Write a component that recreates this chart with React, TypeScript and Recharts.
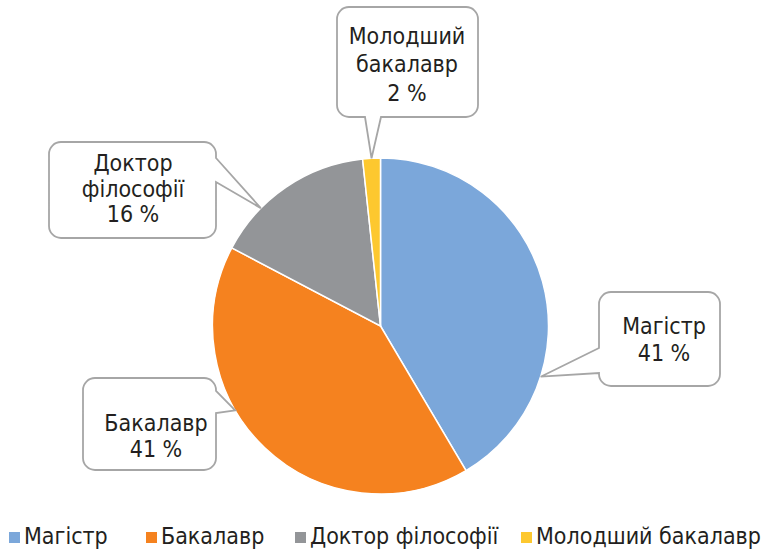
import { PieChart, Pie, Cell, Legend } from 'recharts'

const categories = ['Магістр', 'Бакалавр', 'Доктор філософії', 'Молодший бакалавр']
const shares = [41.5, 41.2, 15.6, 1.7]
const shareLabels = ['41 %', '41 %', '16 %', '2 %']
const calloutLines = [['Магістр'], ['Бакалавр'], ['Доктор', 'філософії'], ['Молодший', 'бакалавр']]

const COLOURS = ['#7ba7da', '#f5821f', '#939598', '#fdc82f']
const FONT = "'DejaVu Sans Condensed', 'DejaVu Sans', sans-serif"
const TEXT = '#231f20'
const FONT_SIZE = 23

const data = categories.map((name, i) => ({ name, value: shares[i] }))

// where each legend entry starts (its square), as in the original
const legendLeft = [9, 146, 295, 521]

interface Callout {
  x: number; y: number; w: number; h: number
  side: 'left' | 'right' | 'bottom'
  a: number; b: number // tail base along the side
  frac: number // where along the slice the tail points
  tx: number; ty: number[]
}

// callout boxes placed like the original Excel chart
const CALLOUTS: Callout[] = [
  { x: 599, y: 292, w: 121, h: 94, side: 'left', a: 348, b: 373, frac: 0.72, tx: 664, ty: [334, 361] },
  { x: 83, y: 378, w: 133, h: 92, side: 'right', a: 391, b: 413, frac: 0.61, tx: 156, ty: [431, 457] },
  { x: 49, y: 142, w: 167, h: 96, side: 'right', a: 158, b: 182, frac: 0.3, tx: 133, ty: [171, 197, 222] },
  { x: 337, y: 7, w: 141, h: 110, side: 'bottom', a: 365, b: 381, frac: 0.5, tx: 407, ty: [44, 72, 101] },
]

function calloutPath(c: Callout, tip: { x: number; y: number }) {
  const { x, y, w, h, side, a, b } = c
  const r = 12
  const R = x + w
  const B = y + h
  let d = `M${x + r},${y} H${R - r} A${r},${r} 0 0 1 ${R},${y + r}`
  if (side === 'right') d += ` V${a} L${tip.x},${tip.y} L${R},${b}`
  d += ` V${B - r} A${r},${r} 0 0 1 ${R - r},${B}`
  if (side === 'bottom') d += ` H${b} L${tip.x},${tip.y} L${a},${B}`
  d += ` H${x + r} A${r},${r} 0 0 1 ${x},${B - r}`
  if (side === 'left') d += ` V${b} L${tip.x},${tip.y} L${x},${a}`
  d += ` V${y + r} A${r},${r} 0 0 1 ${x + r},${y} Z`
  return d
}

// eslint-disable-next-line @typescript-eslint/no-explicit-any
function renderCallout(props: any) {
  const { cx, cy, outerRadius, index } = props
  const c = CALLOUTS[index]
  let { startAngle, endAngle } = props
  if (typeof startAngle !== 'number' || typeof endAngle !== 'number') {
    const total = shares.reduce((s, v) => s + v, 0)
    const before = shares.slice(0, index).reduce((s, v) => s + v, 0)
    startAngle = 90 - (before / total) * 360
    endAngle = startAngle - (shares[index] / total) * 360
  }
  const ang = ((startAngle + c.frac * (endAngle - startAngle)) * Math.PI) / 180
  const tip = { x: cx + outerRadius * Math.cos(ang), y: cy - outerRadius * Math.sin(ang) }
  const lines = [...calloutLines[index], shareLabels[index]]
  return (
    <g>
      <path d={calloutPath(c, tip)} fill="#fff" stroke="#a6a6a6" strokeWidth={1.8} />
      {lines.map((t, i) => (
        <text key={i} x={c.tx} y={c.ty[i]} textAnchor="middle" fontFamily={FONT} fontSize={FONT_SIZE} fill={TEXT}>
          {t}
        </text>
      ))}
    </g>
  )
}

function renderLegend() {
  return (
    <div style={{ position: 'relative', height: 30, fontFamily: FONT, fontSize: FONT_SIZE, color: TEXT, lineHeight: '30px', whiteSpace: 'nowrap' }}>
      {categories.map((name, i) => (
        <div key={name} style={{ position: 'absolute', left: legendLeft[i], top: 0, display: 'flex', alignItems: 'center', gap: 4 }}>
          <span style={{ width: 11, height: 11, background: COLOURS[i], display: 'inline-block', marginTop: 3 }} />
          <span>{name}</span>
        </div>
      ))}
    </div>
  )
}

export default function App() {
  return (
    <div style={{ position: 'absolute', left: 0, top: 0, width: 761, height: 550, background: '#fff' }}>
      <PieChart width={761} height={550} margin={{ top: 0, right: 0, bottom: 0, left: 0 }}>
        <Pie
          data={data}
          dataKey="value"
          nameKey="name"
          cx={380.5}
          cy={326}
          outerRadius={168}
          startAngle={90}
          endAngle={-270}
          stroke="#fff"
          strokeWidth={1.5}
          label={renderCallout}
          labelLine={false}
          isAnimationActive={false}
        >
          {data.map((d, i) => <Cell key={d.name} fill={COLOURS[i]} />)}
        </Pie>
        <Legend content={renderLegend} wrapperStyle={{ left: 0, top: 521, width: 761, height: 30 }} />
      </PieChart>
    </div>
  )
}
